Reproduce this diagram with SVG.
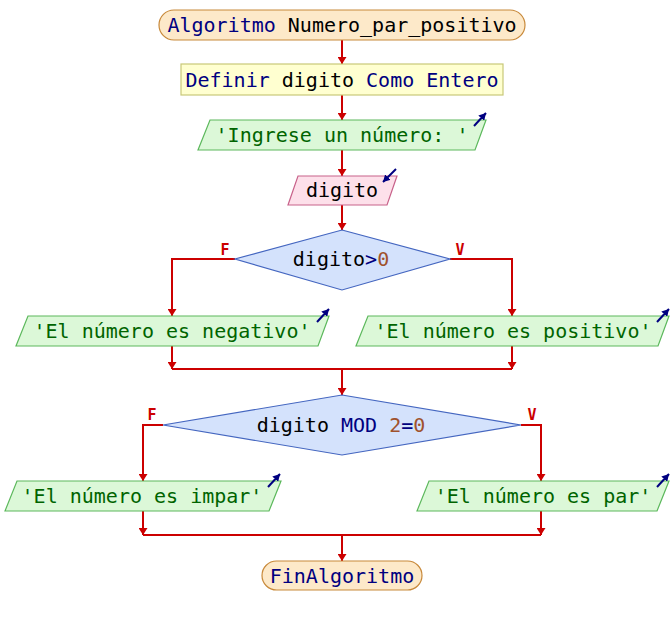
<svg xmlns="http://www.w3.org/2000/svg" width="672" height="625" viewBox="0 0 672 625">
<defs>
<marker id="ar" viewBox="0 0 10 10" refX="10" refY="5" markerWidth="7" markerHeight="9" markerUnits="userSpaceOnUse" orient="auto" preserveAspectRatio="none"><path d="M0,0 L10,5 L0,10 z" fill="#cc0000"/></marker>
<marker id="ab" viewBox="0 0 10 10" refX="10" refY="5" markerWidth="7" markerHeight="8" markerUnits="userSpaceOnUse" orient="auto" preserveAspectRatio="none"><path d="M0,0 L10,5 L0,10 z" fill="#000080"/></marker>
<style>
.t{font-family:"DejaVu Sans Mono","Liberation Mono",monospace;font-size:20px;text-anchor:middle;fill:#000}
.k{fill:#000080}
.n{fill:#a0522d}
.s{fill:#006400}
.term{fill:#fde9c9;stroke:#c8893a;stroke-width:1.2}
.def{fill:#ffffd0;stroke:#c8c878;stroke-width:1.2}
.out{fill:#dcf8d8;stroke:#5cb85c;stroke-width:1.2}
.inp{fill:#fde0ea;stroke:#c8628a;stroke-width:1.2}
.dec{fill:#d4e2fc;stroke:#4466c0;stroke-width:1.2}
.c{fill:none;stroke:#cc0000;stroke-width:2}
.ca{fill:none;stroke:#cc0000;stroke-width:2;marker-end:url(#ar)}
.io{fill:none;stroke:#000080;stroke-width:2;marker-end:url(#ab)}
.lbl{font-family:"DejaVu Sans Mono","Liberation Mono",monospace;font-size:15px;font-weight:bold;fill:#cc0000;text-anchor:middle}
</style>
</defs>
<g id="connectors">
<line class="ca" x1="342" y1="40" x2="342" y2="64"/>
<line class="ca" x1="342" y1="95" x2="342" y2="120"/>
<line class="ca" x1="342" y1="150" x2="342" y2="176"/>
<line class="ca" x1="342" y1="205" x2="342" y2="230"/>
<polyline class="ca" points="235,259 172,259 172,316"/>
<polyline class="ca" points="450,259 512,259 512,316"/>
<line class="ca" x1="172" y1="346" x2="172" y2="369"/>
<line class="ca" x1="512" y1="346" x2="512" y2="369"/>
<line class="c" x1="172" y1="369" x2="512" y2="369"/>
<line class="ca" x1="342" y1="369" x2="342" y2="395"/>
<polyline class="ca" points="163,425 143,425 143,481"/>
<polyline class="ca" points="521,425 541,425 541,481"/>
<line class="ca" x1="143" y1="511" x2="143" y2="535"/>
<line class="ca" x1="541" y1="511" x2="541" y2="535"/>
<line class="c" x1="143" y1="535" x2="541" y2="535"/>
<line class="ca" x1="342" y1="535" x2="342" y2="561"/>
<text class="lbl" x="225" y="255">F</text>
<text class="lbl" x="460" y="255">V</text>
<text class="lbl" x="152" y="420">F</text>
<text class="lbl" x="532" y="420">V</text>
</g>
<g id="start">
<rect class="term" x="159" y="10" width="366" height="30" rx="15" ry="15"/>
<text class="t" x="342" y="32"><tspan class="k">Algoritmo</tspan> Numero_par_positivo</text>
</g>
<g id="definir">
<rect class="def" x="181" y="64" width="322" height="31"/>
<text class="t" x="342" y="87"><tspan class="k">Definir</tspan> digito <tspan class="k">Como Entero</tspan></text>
</g>
<g id="ingrese">
<polygon class="out" points="210,120 486,120 475,150 198,150"/>
<text class="t s" x="342" y="142">'Ingrese un número: '</text>
<line class="io" x1="474" y1="126" x2="486" y2="113"/>
</g>
<g id="leer">
<polygon class="inp" points="298,176 397,176 387,205 288,205"/>
<text class="t" x="342" y="197">digito</text>
<line class="io" x1="396" y1="169" x2="383" y2="182"/>
</g>
<g id="dec1">
<polygon class="dec" points="342,230 450,259 342,290 235,259"/>
<text class="t" x="341" y="266">digito<tspan class="k">&gt;</tspan><tspan class="n">0</tspan></text>
</g>
<g id="negativo">
<polygon class="out" points="28,316 329,316 318,346 16,346"/>
<text class="t s" x="172" y="338">'El número es negativo'</text>
<line class="io" x1="317" y1="322" x2="329" y2="309"/>
</g>
<g id="positivo">
<polygon class="out" points="368,316 669,316 658,346 356,346"/>
<text class="t s" x="513" y="338">'El número es positivo'</text>
<line class="io" x1="657" y1="322" x2="669" y2="309"/>
</g>
<g id="dec2">
<polygon class="dec" points="342,395 521,425 342,455 163,425"/>
<text class="t" x="341" y="432">digito <tspan class="k">MOD</tspan> <tspan class="n">2</tspan><tspan class="k">=</tspan><tspan class="n">0</tspan></text>
</g>
<g id="impar">
<polygon class="out" points="17,481 281,481 269,511 5,511"/>
<text class="t s" x="142" y="503">'El número es impar'</text>
<line class="io" x1="268" y1="487" x2="280" y2="474"/>
</g>
<g id="par">
<polygon class="out" points="429,481 669,481 657,511 417,511"/>
<text class="t s" x="543" y="503">'El número es par'</text>
<line class="io" x1="657" y1="487" x2="669" y2="474"/>
</g>
<g id="fin">
<rect class="term" x="262" y="561" width="160" height="29" rx="14.5" ry="14.5"/>
<text class="t k" x="342" y="583">FinAlgoritmo</text>
</g>
</svg>
